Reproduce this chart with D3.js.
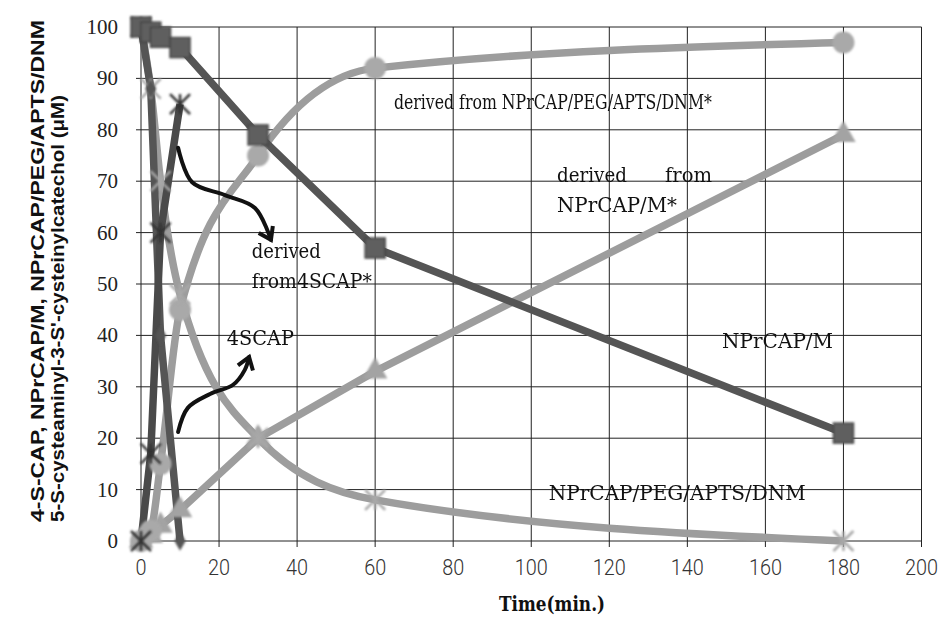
<!DOCTYPE html>
<html><head><meta charset="utf-8">
<script src="https://cdn.jsdelivr.net/npm/d3@7"></script>
<style>body{margin:0;background:#fff}</style>
</head><body>
<svg id="c" width="941" height="624"></svg>
<script>
// ---- data ----
const times = [0, 2.5, 5, 10, 30, 60, 180];
const timesEarly = [0, 2.5, 5, 10];
const npCapM = [100, 99, 98, 96, 79, 57, 21];
const npCapPeg = [100, 88, 70, 48, 20, 8, 0];
const derivedPeg = [0, 2, 15, 45, 75, 92, 97];
const derivedM = [0, 1, 3, 6, 20, 33, 79];
const scap4 = [100, 88, 40, 0];
const derived4scap = [0, 17, 60, 85];
const xTicks = [0, 20, 40, 60, 80, 100, 120, 140, 160, 180, 200];
const yTicks = [0, 10, 20, 30, 40, 50, 60, 70, 80, 90, 100];
const yLabel1 = "4-S-CAP, NPrCAP/M, NPrCAP/PEG/APTS/DNM";
const yLabel2 = "5-S-cysteaminyl-3-S'-cysteinylcatechol (\u03bcM)";
const xLabel = "Time(min.)";
// annotations in data coordinates [time, value, text, length]
const notes = [
  [64.8, 84.0, "derived from NPrCAP/PEG/APTS/DNM*", 318],
  [106.6, 69.8, "derived", 70],
  [134.3, 69.8, "from", 47],
  [106.6, 64.0, "NPrCAP/M*", 120],
  [28.4, 55.1, "derived", 69],
  [28.4, 49.2, "from4SCAP*", 120],
  [22.0, 38.1, "4SCAP", 67],
  [148.9, 37.5, "NPrCAP/M", 111],
  [104.5, 8.0, "NPrCAP/PEG/APTS/DNM", 257]
];
const arrow1 = [[9.5, 76.5], [13.1, 69.8], [21.5, 67.3], [29.2, 64.8], [33.3, 58.6]];
const arrow2 = [[9.5, 21.2], [12.0, 25.9], [17.7, 28.6], [23.6, 30.4], [26.6, 33.3], [27.7, 35.8]];

// ---- layout ----
const W = 941, H = 624;
const m = {l: 141, r: 19.5, t: 27, b: 83};
const svg = d3.select("#c");
const x = d3.scaleLinear().domain([0, 200]).range([m.l, W - m.r]);
const y = d3.scaleLinear().domain([0, 100]).range([H - m.b, m.t]);

const defs = svg.append("defs");
defs.append("filter").attr("id", "soft").append("feGaussianBlur").attr("stdDeviation", 0.9);

// grid
const g = svg.append("g");
g.selectAll(".hg").data(yTicks).join("line")
  .attr("x1", x(0) - 5).attr("x2", x(200)).attr("y1", d => y(d)).attr("y2", d => y(d))
  .attr("stroke", "#222").attr("stroke-width", 1);
g.selectAll(".vg").data(xTicks).join("line")
  .attr("x1", d => x(d)).attr("x2", d => x(d)).attr("y1", y(100)).attr("y2", y(0) + 6)
  .attr("stroke", "#222").attr("stroke-width", 1);

// tick labels
svg.append("g").selectAll("text").data(yTicks).join("text")
  .attr("x", x(0) - 23).attr("y", d => y(d) + 7).attr("text-anchor", "end")
  .attr("font-family", "'Liberation Serif', serif").attr("font-size", 21).attr("fill", "#222")
  .text(d => d);
svg.append("g").selectAll("text").data(xTicks).join("text")
  .attr("x", d => x(d)).attr("y", y(0) + 34).attr("text-anchor", "middle")
  .attr("font-family", "Roboto, 'Liberation Sans', sans-serif").attr("font-weight", 300)
  .attr("font-size", 22).attr("fill", "#333")
  .attr("textLength", d => String(d).length * 11).attr("lengthAdjust", "spacingAndGlyphs")
  .text(d => d);

// axis titles
svg.append("text").attr("transform", "translate(44,522) rotate(-90)")
  .attr("font-family", "'Liberation Sans', Arial, sans-serif").attr("font-weight", "bold")
  .attr("font-size", 17.5).attr("fill", "#111").attr("textLength", 502).attr("lengthAdjust", "spacingAndGlyphs")
  .text(yLabel1);
svg.append("text").attr("transform", "translate(64,522) rotate(-90)")
  .attr("font-family", "'Liberation Sans', Arial, sans-serif").attr("font-weight", "bold")
  .attr("font-size", 17.5).attr("fill", "#111").attr("textLength", 427).attr("lengthAdjust", "spacingAndGlyphs")
  .text(yLabel2);
svg.append("text").attr("x", 552).attr("y", 611).attr("text-anchor", "middle")
  .attr("font-family", "'DejaVu Serif', serif").attr("font-weight", "bold")
  .attr("font-size", 21).attr("fill", "#111").attr("textLength", 106).attr("lengthAdjust", "spacingAndGlyphs")
  .text(xLabel);

// series
const DARK = "#555", LIGHT = "#9d9d9d";
const series = [
  {t: times, v: derivedM, color: LIGHT, curve: d3.curveLinear, mk: "tri"},
  {t: times, v: derivedPeg, color: LIGHT, curve: d3.curveMonotoneX, mk: "circle"},
  {t: times, v: npCapPeg, color: LIGHT, curve: d3.curveMonotoneX, mk: "star"},
  {t: timesEarly, v: scap4, color: DARK, curve: d3.curveLinear, mk: "diamond"},
  {t: timesEarly, v: derived4scap, color: "#4a4a4a", curve: d3.curveLinear, mk: "star"},
  {t: times, v: npCapM, color: DARK, curve: d3.curveLinear, mk: "square"}
];
const lineGen = d3.line().x(d => x(d[0])).y(d => y(d[1]));
series.forEach(s => {
  const pts = s.t.map((t, i) => [t, s.v[i]]);
  svg.append("path").attr("d", lineGen.curve(s.curve)(pts))
    .attr("fill", "none").attr("stroke", s.color).attr("stroke-width", 7.5)
    .attr("stroke-linejoin", "round");
});
series.forEach(s => {
  const pts = s.t.map((t, i) => [t, s.v[i]]);
  const mg = svg.append("g").attr("filter", "url(#soft)");
  pts.forEach(p => {
    const cx = x(p[0]), cy = y(p[1]);
    if (s.mk === "square") {
      mg.append("rect").attr("x", cx - 10).attr("y", cy - 10).attr("width", 20).attr("height", 20)
        .attr("fill", "#5f5f5f").attr("stroke", "#444").attr("stroke-width", 1.5);
    } else if (s.mk === "circle") {
      mg.append("circle").attr("cx", cx).attr("cy", cy).attr("r", 11).attr("fill", "#a9a9a9");
    } else if (s.mk === "tri") {
      mg.append("path").attr("d", d3.symbol(d3.symbolTriangle, 260)()).attr("transform", `translate(${cx},${cy})`)
        .attr("fill", "#a3a3a3");
    } else if (s.mk === "diamond") {
      mg.append("path").attr("d", d3.symbol(d3.symbolDiamond, 110)()).attr("transform", `translate(${cx},${cy})`)
        .attr("fill", "#555");
    } else if (s.mk === "star") {
      const r = 10;
      const sg = mg.append("g").attr("transform", `translate(${cx},${cy})`)
        .attr("stroke", s.color === LIGHT ? "#a8a8a8" : "#333").attr("stroke-width", 2.5);
      sg.append("line").attr("x1", -r).attr("y1", -r).attr("x2", r).attr("y2", r);
      sg.append("line").attr("x1", -r).attr("y1", r).attr("x2", r).attr("y2", -r);
      sg.append("line").attr("x1", 0).attr("y1", -r).attr("x2", 0).attr("y2", r);
    }
  });
});

// annotation arrows
function arrow(pts) {
  const path = d3.line().x(d => x(d[0])).y(d => y(d[1])).curve(d3.curveCatmullRom)(pts);
  svg.append("path").attr("d", path).attr("fill", "none").attr("stroke", "#111")
    .attr("stroke-width", 4).attr("stroke-linecap", "round");
  const a = pts[pts.length - 2], b = pts[pts.length - 1];
  const bx = x(b[0]), by = y(b[1]);
  const ang = Math.atan2(by - y(a[1]), bx - x(a[0]));
  const L = 14, spread = 0.6;
  const p1 = [bx - L * Math.cos(ang - spread), by - L * Math.sin(ang - spread)];
  const p2 = [bx - L * Math.cos(ang + spread), by - L * Math.sin(ang + spread)];
  svg.append("path").attr("d", `M${p1}L${bx},${by}L${p2}`).attr("fill", "none")
    .attr("stroke", "#111").attr("stroke-width", 4).attr("stroke-linejoin", "miter");
}
arrow(arrow1);
arrow(arrow2);

// annotation text
svg.append("g").selectAll("text").data(notes).join("text")
  .attr("x", d => x(d[0])).attr("y", d => y(d[1]))
  .attr("font-family", "'DejaVu Serif', serif").attr("font-size", 20).attr("fill", "#111")
  .attr("textLength", d => d[3]).attr("lengthAdjust", "spacingAndGlyphs")
  .text(d => d[2]);
</script>
</body></html>
